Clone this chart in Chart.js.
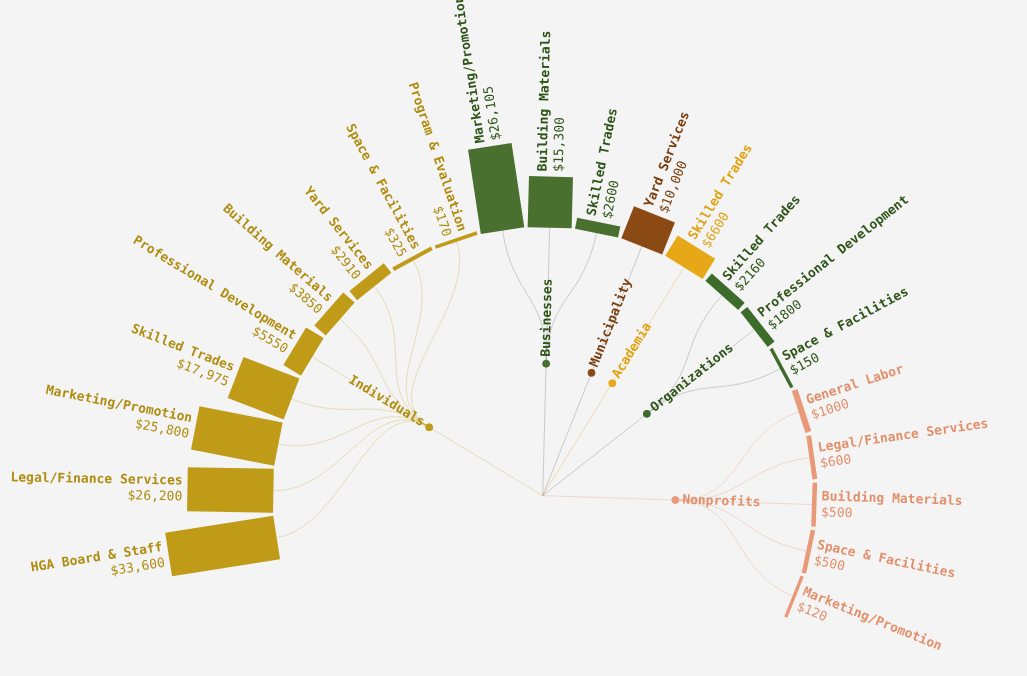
<!DOCTYPE html>
<html>
<head>
<meta charset="utf-8">
<script src="https://cdn.jsdelivr.net/npm/chart.js@4.4.1/dist/chart.umd.min.js"></script>
<style>
  html, body { margin: 0; padding: 0; background: #f4f4f4; }
  #wrap { width: 1027px; height: 676px; }
</style>
</head>
<body>
<div id="wrap"><canvas id="c" width="1027" height="676"></canvas></div>
<script>
// data
const groups = ['Individuals', 'Businesses', 'Municipality', 'Academia', 'Organizations', 'Nonprofits'];
const leafGroup = [0, 0, 0, 0, 0, 0, 0, 0, 0, 1, 1, 1, 2, 3, 4, 4, 4, 5, 5, 5, 5, 5];
const leafNames = [
  'HGA Board & Staff', 'Legal/Finance Services', 'Marketing/Promotion', 'Skilled Trades',
  'Professional Development', 'Building Materials', 'Yard Services', 'Space & Facilities',
  'Program & Evaluation',
  'Marketing/Promotion', 'Building Materials', 'Skilled Trades',
  'Yard Services',
  'Skilled Trades',
  'Skilled Trades', 'Professional Development', 'Space & Facilities',
  'General Labor', 'Legal/Finance Services', 'Building Materials', 'Space & Facilities', 'Marketing/Promotion'
];
const leafValues = [33600, 26200, 25800, 17975, 5550, 3850, 2910, 325, 170,
  26105, 15300, 2600, 10000, 6600, 2160, 1800, 150, 1000, 600, 500, 500, 120];

// styles
const barColors = ['#bf9b17', '#4a7030', '#8b4a14', '#e6a817', '#3d6b2a', '#e89a78'];
const textColors = ['#b08d10', '#2e5418', '#7a3e0e', '#e0a20f', '#2e5418', '#e2906c'];
const linkColors = ['rgba(191,155,23,0.35)', 'rgba(90,90,90,0.35)', 'rgba(90,90,90,0.35)', 'rgba(230,168,23,0.4)', 'rgba(90,90,90,0.35)', 'rgba(232,154,120,0.4)'];
const R_LEAF = 272, R_GROUP = 134;
const A0 = -99, A1 = 112;
const deg = Math.PI / 180;

const n = leafValues.length;
const leafAngle = leafValues.map((v, i) => A0 + (A1 - A0) * i / (n - 1));
const groupAngle = groups.map((g, gi) => {
  const a = leafAngle.filter((x, i) => leafGroup[i] === gi);
  return a.reduce((s, x) => s + x, 0) / a.length;
});
const polar = (r, a) => ({ x: r * Math.sin(a * deg), y: r * Math.cos(a * deg) });
const barLen = v => 3 + v * 0.0032;
const BAR_W = 44;
const fmt = v => '$' + (v >= 10000 ? v.toLocaleString('en-US') : String(v));

const datasets = [];
leafValues.forEach((v, i) => {
  const a = leafAngle[i];
  datasets.push({
    type: 'scatter', showLine: true,
    data: [polar(R_LEAF, a), polar(R_LEAF + barLen(v), a)],
    borderColor: barColors[leafGroup[i]], borderWidth: BAR_W,
    borderCapStyle: 'butt', pointRadius: 0
  });
});
datasets.push({
  type: 'scatter',
  data: groups.map((g, gi) => polar(R_GROUP, groupAngle[gi])),
  backgroundColor: barColors, borderColor: barColors, pointRadius: 3.5
});

const treePlugin = {
  id: 'tree',
  beforeDatasetsDraw(chart) {
    const ctx = chart.ctx, sx = chart.scales.x, sy = chart.scales.y;
    const px = p => [sx.getPixelForValue(p.x), sy.getPixelForValue(p.y)];
    const root = px({ x: 0, y: 0 });
    ctx.save();
    ctx.lineWidth = 0.8;
    groups.forEach((g, gi) => {
      const gp = px(polar(R_GROUP, groupAngle[gi]));
      ctx.strokeStyle = linkColors[gi];
      ctx.beginPath(); ctx.moveTo(root[0], root[1]); ctx.lineTo(gp[0], gp[1]); ctx.stroke();
    });
    leafValues.forEach((v, i) => {
      const gi = leafGroup[i];
      const rm = (R_GROUP + R_LEAF) / 2;
      const p0 = px(polar(R_GROUP, groupAngle[gi]));
      const c1 = px(polar(rm, groupAngle[gi]));
      const c2 = px(polar(rm, leafAngle[i]));
      const p1 = px(polar(R_LEAF, leafAngle[i]));
      ctx.strokeStyle = linkColors[gi];
      ctx.beginPath(); ctx.moveTo(p0[0], p0[1]);
      ctx.bezierCurveTo(c1[0], c1[1], c2[0], c2[1], p1[0], p1[1]); ctx.stroke();
    });
    ctx.restore();
  },
  afterDatasetsDraw(chart) {
    const ctx = chart.ctx, sx = chart.scales.x, sy = chart.scales.y;
    const px = p => [sx.getPixelForValue(p.x), sy.getPixelForValue(p.y)];
    ctx.save();
    ctx.textBaseline = 'middle';
    leafValues.forEach((v, i) => {
      const a = leafAngle[i];
      const p = px(polar(R_LEAF + barLen(v) + 5, a));
      const flip = leafGroup[i] === 0;
      ctx.save();
      ctx.translate(p[0], p[1]);
      ctx.rotate((a - 90) * deg + (flip ? Math.PI : 0));
      ctx.textAlign = flip ? 'right' : 'left';
      ctx.fillStyle = textColors[leafGroup[i]];
      ctx.font = 'bold 13px "DejaVu Sans Mono", monospace';
      ctx.fillText(leafNames[i], 0, -8);
      ctx.font = '13px "DejaVu Sans Mono", monospace';
      ctx.fillText(fmt(v), 0, 8);
      ctx.restore();
    });
    groups.forEach((g, gi) => {
      const a = groupAngle[gi];
      const p = px(polar(R_GROUP + 7, a));
      const flip = gi === 0;
      ctx.save();
      ctx.translate(p[0], p[1]);
      ctx.rotate((a - 90) * deg + (flip ? Math.PI : 0));
      ctx.textAlign = flip ? 'right' : 'left';
      ctx.fillStyle = textColors[gi];
      ctx.font = 'bold 13px "DejaVu Sans Mono", monospace';
      ctx.fillText(g, 0, 0);
      ctx.restore();
    });
    ctx.restore();
  }
};

new Chart(document.getElementById('c'), {
  type: 'scatter',
  data: { datasets },
  options: {
    responsive: false, animation: false,
    layout: { padding: 0 },
    plugins: { legend: { display: false }, tooltip: { enabled: false } },
    scales: {
      x: { type: 'linear', min: -543, max: 484, display: false },
      y: { type: 'linear', min: -178, max: 498, display: false }
    }
  },
  plugins: [treePlugin]
});
</script>
</body>
</html>
